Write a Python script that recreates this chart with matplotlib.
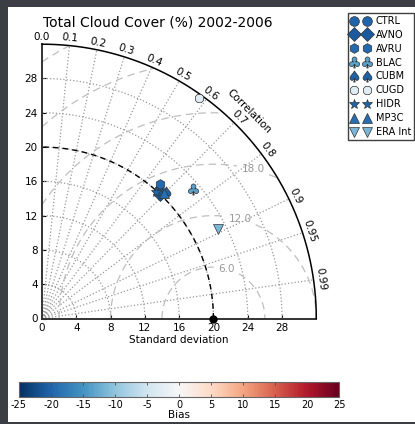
import numpy as np
import matplotlib
matplotlib.use("Agg")
import matplotlib.pyplot as plt
from matplotlib.patches import Rectangle
from matplotlib.colors import Normalize
from matplotlib.cm import ScalarMappable

plt.rcParams['font.family'] = 'DejaVu Sans'
plt.rcParams['axes.unicode_minus'] = False

# ---- data -------------------------------------------------------------
models = ["CTRL", "AVNO", "AVRU", "BLAC", "CUBM", "CUGD", "HIDR", "MP3C", "ERA Int"]
stddev = [20.3, 20.0, 20.9, 23.2, 20.6, 31.6, 19.9, 20.4, 23.1]
correlation = [0.675, 0.690, 0.660, 0.759, 0.700, 0.579, 0.668, 0.695, 0.891]
bias = [-20.0, -21.0, -19.5, -13.5, -20.5, -3.0, -20.0, -19.0, -11.5]
markers = ["o", "D", "h", r"$\clubsuit$", r"$\spadesuit$", "8", "*", "^", "v"]

ref_std = 20.0
std_max = 32.0
std_ticks = [0, 4, 8, 12, 16, 20, 24, 28]
corr_ticks = [0.0, 0.1, 0.2, 0.3, 0.4, 0.5, 0.6, 0.7, 0.8, 0.9, 0.95, 0.99]
rms_levels = [6, 12, 18, 24, 30, 36]
rms_label_levels = [6, 12, 18]
bias_ticks = [-25, -20, -15, -10, -5, 0, 5, 10, 15, 20, 25]
bias_range = (-25, 25)

W, H = 415, 424
fig = plt.figure(figsize=(W / 100, H / 100), dpi=100)
fig.patch.set_facecolor('#3b3e42')
fig.add_artist(Rectangle((8 / W, 2 / H), 1 - 8 / W, (422 - 7) / H,
                         transform=fig.transFigure, facecolor='white',
                         edgecolor='none', zorder=0))

cmap = plt.get_cmap('RdBu_r')
norm = Normalize(*bias_range)

ax = fig.add_axes([42 / W, (H - 318.5) / H, 274.3 / W, 274.3 / H])
ax.set_facecolor('none')
ax.set_xlim(0, std_max)
ax.set_ylim(0, std_max)
for s in ('top', 'right'):
    ax.spines[s].set_visible(False)
for s in ('left', 'bottom'):
    ax.spines[s].set_linewidth(1.4)
    ax.spines[s].set_color('0.2')
ax.set_xticks(std_ticks)
ax.set_yticks(std_ticks)
ax.tick_params(direction='in', length=3, width=0.8, labelsize=7.5, pad=3)
ax.set_xlabel('Standard deviation', fontsize=7.5, labelpad=2)

theta = np.linspace(0, np.pi / 2, 300)

# outer boundary
ax.plot(std_max * np.cos(theta), std_max * np.sin(theta), color='k', lw=1.1,
        clip_on=False, zorder=3)

# dotted std arcs
for r in std_ticks[1:]:
    ax.plot(r * np.cos(theta), r * np.sin(theta), color='0.6', ls=':', lw=0.9)

# dotted correlation rays and labels
for c in corr_ticks:
    t = np.arccos(c)
    if 0 < c < 1:
        ax.plot([0, std_max * np.cos(t)], [0, std_max * np.sin(t)],
                color='0.6', ls=':', lw=0.9)
    rl = 32.85
    ax.text(rl * np.cos(t), rl * np.sin(t), "0.0" if c == 0 else f"{c:g}",
            rotation=np.degrees(t) - 90, rotation_mode='anchor',
            ha='center', va='center', fontsize=7.5, clip_on=False)
ax.text(34.1 * np.cos(np.pi / 4), 34.1 * np.sin(np.pi / 4), 'Correlation',
        rotation=-45, rotation_mode='anchor', ha='center', va='center',
        fontsize=7.5, clip_on=False)

# centred RMS difference contours
rr, tt = np.meshgrid(np.linspace(0, std_max, 200), np.linspace(0, np.pi / 2, 200))
rms = np.sqrt(ref_std ** 2 + rr ** 2 - 2 * ref_std * rr * np.cos(tt))
cs = ax.contour(rr * np.cos(tt), rr * np.sin(tt), rms, levels=rms_levels,
                colors='0.75', linestyles='--', linewidths=0.9)
cs.set_dashes([(0, (6, 4))])
lbl_pos = []
for lev in rms_label_levels:
    a = np.radians(75)
    lbl_pos.append((ref_std + lev * np.cos(a), lev * np.sin(a)))
labels = ax.clabel(cs, levels=rms_label_levels, inline=True, fontsize=7.5,
                   fmt='%.1f', colors='0.6', manual=lbl_pos)
for t in labels:
    t.set_rotation(0)

# reference std arc and point
ax.plot(ref_std * np.cos(theta), ref_std * np.sin(theta), 'k--', lw=1.0,
        dashes=(4, 3))
ax.plot([ref_std], [0], 'ko', ms=5, clip_on=False, zorder=5)

# model points
for name, s, c, b, m in zip(models, stddev, correlation, bias, markers):
    t = np.arccos(c)
    msize = 7 if not m.startswith('$') else 8
    ax.plot([s * np.cos(t)], [s * np.sin(t)], ls='', marker=m, ms=msize,
            mfc=cmap(norm(b)), mec='0.2', mew=0.5, label=name, zorder=4)

handles, labs = ax.get_legend_handles_labels()
leg = fig.legend(handles, labs, loc='upper left',
                 bbox_to_anchor=(348 / W, 1 - 13 / H), numpoints=2,
                 fontsize=7, fancybox=False, edgecolor='0.25', borderpad=0.3,
                 labelspacing=0.4, handlelength=2.0, handletextpad=0.55,
                 borderaxespad=0, framealpha=1)
leg.get_frame().set_linewidth(1.0)

fig.text(157.5 / W, (H - 26.7) / H, 'Total Cloud Cover (%) 2002-2006',
         ha='center', va='baseline', fontsize=10)

# colour bar for bias
cax = fig.add_axes([19 / W, (H - 397) / H, 320 / W, 15 / H])
cb = fig.colorbar(ScalarMappable(norm=norm, cmap=cmap), cax=cax,
                  orientation='horizontal', ticks=bias_ticks)
cb.outline.set_edgecolor('0.4')
cb.outline.set_linewidth(0.8)
cax.tick_params(direction='in', top=True, bottom=True, length=2.5, width=0.6,
                color='0.3', labelsize=7, pad=2)
cb.set_label('Bias', fontsize=7.5, labelpad=0)

fig.savefig('out.png', dpi=100, facecolor=fig.get_facecolor())
